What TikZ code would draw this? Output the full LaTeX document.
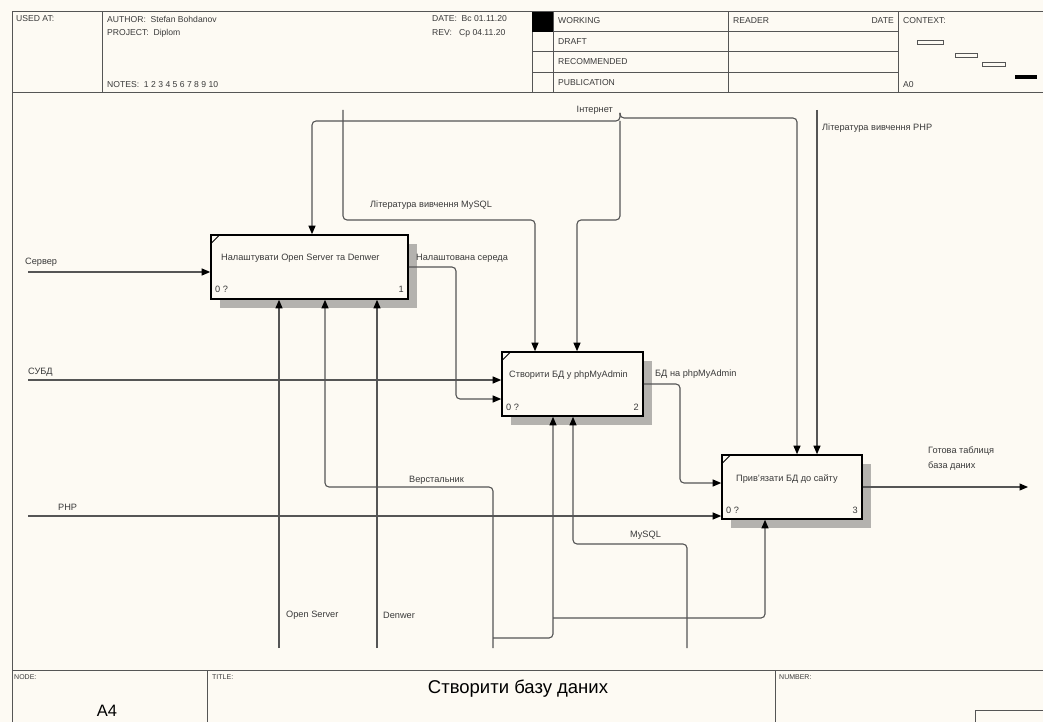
\documentclass[tikz,border=0pt]{standalone}
\usepackage{fontspec}
\setmainfont{Liberation Sans}
\usetikzlibrary{arrows.meta,calc}
\definecolor{bg}{HTML}{FDFAF3}
\definecolor{ln}{HTML}{555555}
\definecolor{tx}{HTML}{3A3A3A}
\definecolor{shd}{HTML}{B4B2AE}
\tikzset{
  conn/.style={draw=ln, line width=1.1pt, rounded corners=4pt},
  arr/.style={conn, -{Triangle[length=8.5pt,width=7pt,color=black]}},
  frame/.style={draw=ln, line width=1pt},
  lbl/.style={font=\fontsize{9.2}{11}\selectfont, text=tx, inner sep=0pt, anchor=west},
  hdr/.style={font=\fontsize{8.6}{10}\selectfont, text=tx, inner sep=0pt, anchor=west},
  box/.style={draw=black, line width=1.6pt, fill=bg, minimum height=64pt, inner sep=0pt},
  shadow/.style={fill=shd, draw=none}
}
\begin{document}
\begin{tikzpicture}[x=1pt,y=-1pt]
\useasboundingbox (0,0) rectangle (1043,722);
\fill[bg] (0,0) rectangle (1043,722);

% ---------- header ----------
\draw[frame] (12,12) -- (1043,12);
\draw[frame] (12,93) -- (1043,93);
\draw[frame] (12,12) -- (12,722);
\draw[frame] (102,12) -- (102,93);
\draw[frame] (532,12) -- (532,93);
\draw[frame] (553,12) -- (553,93);
\draw[frame] (728,12) -- (728,93);
\draw[frame] (898,12) -- (898,93);
\draw[frame] (532,32) -- (898,32);
\draw[frame] (532,52) -- (898,52);
\draw[frame] (532,73) -- (898,73);
\fill[black] (532,12) rectangle (553,32);

\node[hdr] (usedat) at (16,19) {USED AT:};
\node[hdr] (author) at (107,19) {AUTHOR:\ \ Stefan Bohdanov};
\node[hdr] (project) at (107,33) {PROJECT:\ \ Diplom};
\node[hdr] (notes) at (107,85) {NOTES:\ \ 1\ 2\ 3\ 4\ 5\ 6\ 7\ 8\ 9\ 10};
\node[hdr] (date) at (432,19) {DATE:\ \ Вс 01.11.20};
\node[hdr] (rev) at (432,33) {REV:\ \ \ Ср 04.11.20};
\node[hdr] (working) at (558,21) {WORKING};
\node[hdr] (draft) at (558,42) {DRAFT};
\node[hdr] (recom) at (558,62) {RECOMMENDED};
\node[hdr] (publ) at (558,83) {PUBLICATION};
\node[hdr] (reader) at (733,21) {READER};
\node[hdr,anchor=east] (rdate) at (894,21) {DATE};
\node[hdr] (context) at (903,21) {CONTEXT:};
\node[hdr] (a0) at (903,85) {A0};
\draw[ln, line width=0.9pt] (917,40) rectangle (943,44);
\draw[ln, line width=0.9pt] (955,53) rectangle (977,57);
\draw[ln, line width=0.9pt] (982,62) rectangle (1005,66);
\fill[black] (1015,75) rectangle (1037,79);

% ---------- footer ----------
\draw[frame] (12,670) -- (1043,670);
\draw[frame] (207,670) -- (207,722);
\draw[frame] (775,670) -- (775,722);
\draw[frame] (975,722) -- (975,710) -- (1043,710);
\node[hdr, font=\fontsize{7}{8}\selectfont] (nodel) at (14,677) {NODE:};
\node[hdr, font=\fontsize{7}{8}\selectfont] (titlel) at (212,677) {TITLE:};
\node[hdr, font=\fontsize{7}{8}\selectfont] (numberl) at (779,677) {NUMBER:};
\node[font=\fontsize{18.5}{20}\selectfont, text=black, inner sep=0pt] (title) at (518,689) {Створити базу даних};
\node[font=\fontsize{16.5}{18}\selectfont, text=black, inner sep=0pt] (a4) at (107,711) {A4};

% ---------- activity boxes ----------
\fill[shadow] (220,244) rectangle (417,308);
\fill[shadow] (511,361) rectangle (652,425);
\fill[shadow] (731,464) rectangle (871,528);
\node[box, minimum width=197pt] (b1) at (309.5,267) {};
\node[box, minimum width=141pt] (b2) at (572.5,384) {};
\node[box, minimum width=140pt] (b3) at (792,487) {};
\draw[black, line width=0.9pt] ($(b1.north west)+(1,9)$) -- ++(8,-8);
\draw[black, line width=0.9pt] ($(b2.north west)+(1,9)$) -- ++(8,-8);
\draw[black, line width=0.9pt] ($(b3.north west)+(1,9)$) -- ++(8,-8);

\node[lbl] (t1) at (221,258) {Налаштувати Open Server та Denwer};
\node[lbl] (n1a) at (215,289) {0 ?};
\node[lbl,anchor=east] (n1b) at (404,289) {1};
\node[lbl] (t2) at (509,375) {Створити БД у phpMyAdmin};
\node[lbl] (n2a) at (506,407) {0 ?};
\node[lbl,anchor=east] (n2b) at (639,407) {2};
\node[lbl] (t3) at (736,479) {Прив'язати БД до сайту};
\node[lbl] (n3a) at (726,510) {0 ?};
\node[lbl,anchor=east] (n3b) at (858,510) {3};

% ---------- route coordinates ----------
\coordinate (srv) at (28,272);
\coordinate (subd) at (28,380);
\coordinate (php) at (28,516);
\coordinate (lmysql) at (343,110);
\coordinate (lm1) at (343,220);
\coordinate (lm2) at (535,220);
\coordinate (inet) at (620,113);
\coordinate (in1) at (620,121);
\coordinate (in2) at (312,121);
\coordinate (in3) at (620,220);
\coordinate (in4) at (577,220);
\coordinate (in5) at (620,118);
\coordinate (in6) at (797,118);
\coordinate (lphp) at (817,110);
\coordinate (ns1) at (456,267);
\coordinate (ns2) at (456,399);
\coordinate (bd1) at (680,384);
\coordinate (bd2) at (680,483);
\coordinate (out) at (1028,487);
\coordinate (os) at (279,648);
\coordinate (dw) at (377,648);
\coordinate (vs) at (493,648);
\coordinate (vs1) at (493,487);
\coordinate (vs2) at (325,487);
\coordinate (vs3) at (493,638);
\coordinate (vs4) at (553,638);
\coordinate (vs5) at (553,618);
\coordinate (vs6) at (765,618);
\coordinate (my) at (687,648);
\coordinate (my1) at (687,544);
\coordinate (my2) at (573,544);

% ---------- connectors ----------
\draw[arr] (srv) -- (srv -| b1.west);
\draw[arr] (subd) -- (subd -| b2.west);
\draw[arr] (php) -- (php -| b3.west);
\draw[arr] (b1.east) -- (ns1) -- (ns2) -- (ns2 -| b2.west);
\draw[arr] (b2.east) -- (bd1) -- (bd2) -- (bd2 -| b3.west);
\draw[arr] (b3.east) -- (out);
\draw[arr] (lmysql) -- (lm1) -- (lm2) -- (lm2 |- b2.north);
\draw[arr] (inet) -- (in1) -- (in2) -- (in2 |- b1.north);
\draw[arr] (in1) -- (in3) -- (in4) -- (in4 |- b2.north);
\draw[arr] (inet) -- (in5) -- (in6) -- (in6 |- b3.north);
\draw[arr] (lphp) -- (lphp |- b3.north);
\draw[arr] (os) -- (os |- b1.south);
\draw[arr] (dw) -- (dw |- b1.south);
\draw[arr] (vs) -- (vs1) -- (vs2) -- (vs2 |- b1.south);
\draw[arr] (vs3) -- (vs4) -- (vs4 |- b2.south);
\draw[arr] (vs5) -- (vs6) -- (vs6 |- b3.south);
\draw[arr] (my) -- (my1) -- (my2) -- (my2 |- b2.south);

% ---------- connector labels ----------
\node[lbl] (lsrv) at (25,262) {Сервер};
\node[lbl] (lsubd) at (28,372) {СУБД};
\node[lbl] (lphpin) at (58,507) {PHP};
\node[lbl] (lns) at (416,258) {Налаштована середа};
\node[lbl] (llm) at (370,205) {Література вивчення MySQL};
\node[lbl,anchor=east] (linet) at (613,110) {Інтернет};
\node[lbl] (llphp) at (822,128) {Література вивчення PHP};
\node[lbl] (lbd) at (655,374) {БД на phpMyAdmin};
\node[lbl] (lout1) at (928,451) {Готова таблиця};
\node[lbl] (lout2) at (928,466) {база даних};
\node[lbl] (lvs) at (409,480) {Верстальник};
\node[lbl] (lmy) at (630,535) {MySQL};
\node[lbl] (los) at (286,615) {Open Server};
\node[lbl] (ldw) at (383,615) {Denwer};
\end{tikzpicture}
\end{document}
